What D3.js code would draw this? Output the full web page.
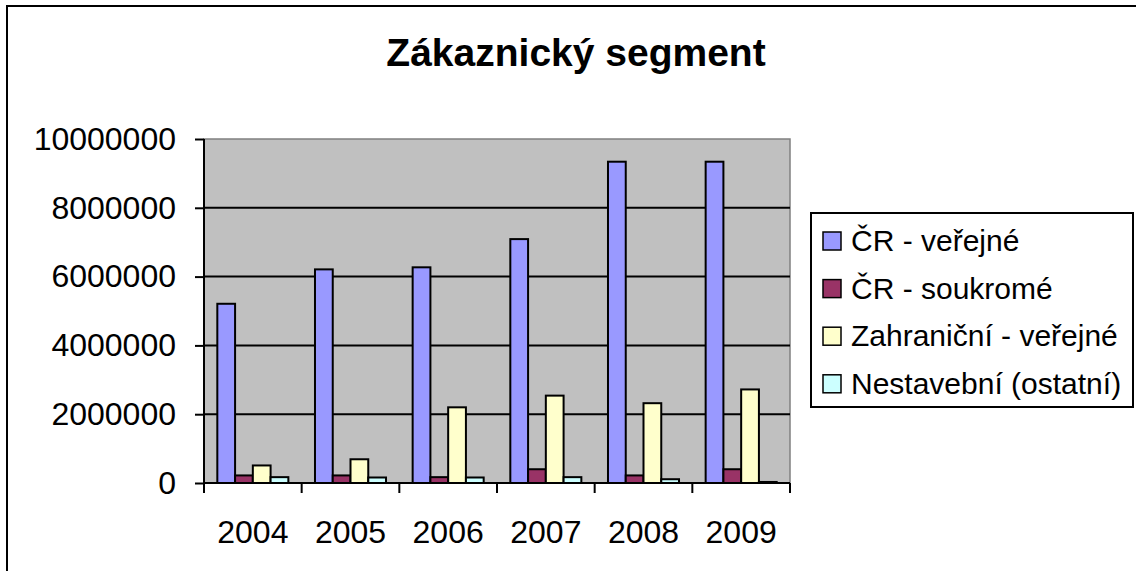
<!DOCTYPE html>
<html>
<head>
<meta charset="utf-8">
<script src="https://cdn.jsdelivr.net/npm/d3@7/dist/d3.min.js"></script>
<style>
  body { margin: 0; background: #fff; }
  svg { display: block; font-family: "Liberation Sans", Arial, sans-serif; }
</style>
</head>
<body>
<script>
// data
var years = ["2004", "2005", "2006", "2007", "2008", "2009"];
var seriesNames = ["ČR - veřejné", "ČR - soukromé", "Zahraniční - veřejné", "Nestavební (ostatní)"];
var crVerejne   = [5210000, 6210000, 6270000, 7090000, 9340000, 9340000];
var crSoukrome  = [220000, 220000, 170000, 400000, 220000, 400000];
var zahranicni  = [510000, 690000, 2200000, 2540000, 2320000, 2720000];
var nestavebni  = [170000, 160000, 160000, 170000, 110000, 30000];
var yTicks = [0, 2000000, 4000000, 6000000, 8000000, 10000000];
var colors = ["#9999FF", "#993366", "#FFFFCC", "#CCFFFF"];

var seriesValues = [crVerejne, crSoukrome, zahranicni, nestavebni];

var width = 1136, height = 571;
var plot = {left: 204, top: 139, right: 790, bottom: 483};

var svg = d3.select("body").append("svg")
    .attr("width", width)
    .attr("height", height);

// outer chart border (runs off the right and bottom edge)
svg.append("rect")
    .attr("x", 7).attr("y", 6)
    .attr("width", 1140).attr("height", 580)
    .attr("fill", "#fff")
    .attr("stroke", "#000")
    .attr("stroke-width", 2);

// title
svg.append("text")
    .attr("x", 576).attr("y", 66)
    .attr("text-anchor", "middle")
    .attr("font-size", 39)
    .attr("font-weight", "bold")
    .text("Zákaznický segment");

var x = d3.scaleBand()
    .domain(years)
    .range([plot.left, plot.right])
    .paddingInner(1.5 / 5.5)
    .paddingOuter(0.75 / 5.5);

var xs = d3.scaleBand()
    .domain(d3.range(seriesNames.length))
    .range([0, x.bandwidth()]);

var y = d3.scaleLinear()
    .domain([0, 10000000])
    .range([plot.bottom, plot.top]);

// plot background
svg.append("rect")
    .attr("x", plot.left).attr("y", plot.top)
    .attr("width", plot.right - plot.left)
    .attr("height", plot.bottom - plot.top)
    .attr("fill", "#C0C0C0")
    .attr("stroke", "#808080")
    .attr("stroke-width", 1.5);

// gridlines
svg.append("g").selectAll("line")
    .data(yTicks.filter(function(d){ return d > 0 && d < 10000000; }))
    .enter().append("line")
    .attr("x1", plot.left).attr("x2", plot.right)
    .attr("y1", function(d){ return y(d); })
    .attr("y2", function(d){ return y(d); })
    .attr("stroke", "#000")
    .attr("stroke-width", 2);

// bars
var rows = [];
years.forEach(function(yr, i){
    seriesValues.forEach(function(vals, s){
        rows.push({year: yr, s: s, v: vals[i]});
    });
});

svg.append("g").selectAll("rect")
    .data(rows)
    .enter().append("rect")
    .attr("x", function(d){ return x(d.year) + xs(d.s); })
    .attr("y", function(d){ return y(d.v); })
    .attr("width", xs.bandwidth())
    .attr("height", function(d){ return y(0) - y(d.v); })
    .attr("fill", function(d){ return colors[d.s]; })
    .attr("stroke", "#000")
    .attr("stroke-width", 2);

// y axis
var yAxis = d3.axisLeft(y)
    .tickValues(yTicks)
    .tickFormat(d3.format("d"))
    .tickSize(9)
    .tickPadding(19);

svg.append("g")
    .attr("transform", "translate(" + plot.left + ",0)")
    .call(yAxis)
    .call(function(g){
        g.select(".domain").attr("stroke-width", 2).attr("d", "M0," + plot.top + "V" + plot.bottom);
        g.selectAll(".tick line").attr("stroke-width", 2);
        g.selectAll("text").attr("font-size", 32).attr("font-family", "Liberation Sans, Arial, sans-serif").attr("fill", "#000");
    });

// x axis: ticks at category boundaries
var xAxis = d3.axisBottom(x).tickSize(0).tickPadding(37);
svg.append("g")
    .attr("transform", "translate(0," + plot.bottom + ")")
    .call(xAxis)
    .call(function(g){
        g.select(".domain").attr("stroke-width", 2).attr("d", "M" + plot.left + ",0H" + plot.right);
        g.selectAll("text").attr("font-size", 32).attr("font-family", "Liberation Sans, Arial, sans-serif").attr("fill", "#000");
    });

svg.append("g").selectAll("line")
    .data(d3.range(years.length + 1))
    .enter().append("line")
    .attr("x1", function(i){ return plot.left + i * x.step(); })
    .attr("x2", function(i){ return plot.left + i * x.step(); })
    .attr("y1", plot.bottom).attr("y2", plot.bottom + 10)
    .attr("stroke", "#000")
    .attr("stroke-width", 2);

// legend
var legend = svg.append("g");
legend.append("rect")
    .attr("x", 811).attr("y", 213)
    .attr("width", 322).attr("height", 194)
    .attr("fill", "#fff")
    .attr("stroke", "#000")
    .attr("stroke-width", 2);

var item = legend.selectAll(".item")
    .data(seriesNames)
    .enter().append("g")
    .attr("class", "item")
    .attr("transform", function(d, i){ return "translate(823," + (232 + i * 47.6) + ")"; });

item.append("rect")
    .attr("width", 18).attr("height", 18)
    .attr("fill", function(d, i){ return colors[i]; })
    .attr("stroke", "#000")
    .attr("stroke-width", 1.5);

item.append("text")
    .attr("x", 28).attr("y", 19)
    .attr("font-size", 30)
    .text(function(d){ return d; });
</script>
</body>
</html>
